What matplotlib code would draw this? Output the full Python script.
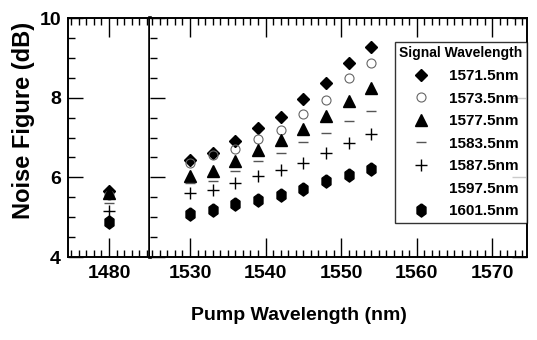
import matplotlib
matplotlib.use("Agg")
import matplotlib.pyplot as plt
from matplotlib.ticker import MultipleLocator
from matplotlib.lines import Line2D

# pump wavelengths (nm); first one sits in the left (broken) panel
pump = [1480, 1530, 1533, 1536, 1539, 1542, 1545, 1548, 1551, 1554]

nf_1571 = [5.66, 6.43, 6.60, 6.92, 7.24, 7.52, 7.96, 8.37, 8.87, 9.28]
nf_1573 = [5.55, 6.37, 6.55, 6.72, 6.95, 7.20, 7.58, 7.95, 8.50, 8.87]
nf_1577 = [5.60, 6.03, 6.16, 6.40, 6.68, 6.93, 7.22, 7.55, 7.91, 8.24]
nf_1583 = [5.35, 5.85, 5.92, 6.15, 6.40, 6.62, 6.88, 7.12, 7.41, 7.66]
nf_1587 = [5.15, 5.60, 5.68, 5.86, 6.03, 6.19, 6.37, 6.61, 6.87, 7.08]
nf_1601 = [4.87, 5.09, 5.19, 5.33, 5.44, 5.56, 5.70, 5.90, 6.07, 6.20]

hexv = [(0, 1), (0.68, 0.5), (0.68, -0.5), (0, -1), (-0.68, -0.5), (-0.68, 0.5), (0, 1)]

series = [
    ("1571.5nm", nf_1571, dict(marker="D", ms=6.5, mfc="black", mec="black")),
    ("1573.5nm", nf_1573, dict(marker="o", ms=6.5, mfc="none", mec="#666666", mew=0.8)),
    ("1577.5nm", nf_1577, dict(marker="^", ms=8, mfc="black", mec="black")),
    ("1583.5nm", nf_1583, dict(marker="_", ms=7, mec="#555555", mew=1.0)),
    ("1587.5nm", nf_1587, dict(marker="+", ms=9, mec="black", mew=1.0)),
    ("1597.5nm", None, dict(marker="none")),
    ("1601.5nm", nf_1601, dict(marker=hexv, ms=9.5, mfc="black", mec="black")),
]

FONT = "Liberation Sans"

fig = plt.figure(figsize=(5.37, 3.4), dpi=100)
x0, x1, xb = 68 / 537, 527 / 537, 150 / 537
y0, y1 = 83 / 340, 322 / 340
ax1 = fig.add_axes([x0, y0, xb - x0, y1 - y0])
ax2 = fig.add_axes([xb, y0, x1 - xb, y1 - y0], sharey=ax1)

handles = []
for label, vals, st in series:
    if vals is None:
        handles.append(Line2D([], [], ls="none", marker="none", label=label))
        continue
    ax1.plot(pump[:1], vals[:1], ls="none", **st)
    h, = ax2.plot(pump[1:], vals[1:], ls="none", label=label, **st)
    handles.append(h)

ax1.set_xlim(1474.6, 1485.4)
ax2.set_xlim(1524.7, 1574.6)
ax1.set_ylim(4, 10)

for ax in (ax1, ax2):
    ax.xaxis.set_major_locator(MultipleLocator(10))
    ax.xaxis.set_minor_locator(MultipleLocator(1))
    ax.yaxis.set_major_locator(MultipleLocator(2))
    ax.yaxis.set_minor_locator(MultipleLocator(0.5))
    ax.tick_params(which="both", direction="in", top=True, width=1.0)
    ax.tick_params(axis="x", which="major", length=14)
    ax.tick_params(axis="y", which="major", length=11)
    ax.tick_params(which="minor", length=5)
    for s in ax.spines.values():
        s.set_linewidth(1.4)
    for t in ax.get_xticklabels():
        t.set_fontweight("bold")
        t.set_fontsize(14)
        t.set_family(FONT)
    ax.tick_params(axis="x", pad=6)

ax1.set_xticks([1480])
ax1.spines["right"].set_linewidth(2.6)
ax1.tick_params(axis="y", right=False, pad=5)
for t in ax1.get_yticklabels():
    t.set_fontweight("bold")
    t.set_fontsize(14)
    t.set_family(FONT)
ax2.spines["left"].set_visible(False)
ax2.tick_params(axis="y", left=True, right=True, labelleft=False)

ax1.set_ylabel("Noise Figure (dB)", fontsize=17, fontweight="bold", family=FONT)
ax1.yaxis.set_label_coords(-0.40, 0.573)
fig.text(299 / 537, 1 - 316 / 340, "Pump Wavelength (nm)", ha="center", va="center",
         fontsize=14, fontweight="bold", family=FONT)

leg = ax2.legend(handles=handles, title="Signal Wavelength", loc="upper right",
                 bbox_to_anchor=(1.0, 0.90), borderaxespad=0, frameon=True,
                 fancybox=False, edgecolor="black", labelspacing=0.56,
                 handletextpad=0.7, handlelength=2.3, borderpad=0.3,
                 prop=dict(family=FONT, weight="bold", size=11))
leg.get_title().set_fontweight("bold")
leg.get_title().set_family(FONT)
leg.get_title().set_fontsize(10)
leg.get_frame().set_linewidth(1.0)

fig.savefig("out.png", dpi=100)
